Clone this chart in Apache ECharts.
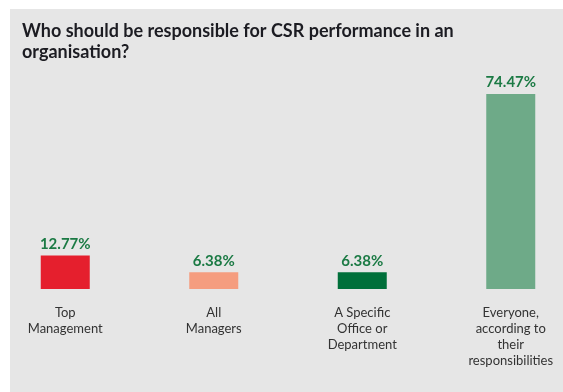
<!DOCTYPE html>
<html>
<head>
<meta charset="utf-8">
<script src="https://cdn.jsdelivr.net/npm/echarts@6/dist/echarts.min.js"></script>
<style>
  html, body { margin: 0; padding: 0; background: #ffffff; overflow: hidden; }
  #panel { position: absolute; left: 10px; top: 9px; width: 553px; height: 383px; background: #e6e6e6; }
  #main { position: absolute; left: -19px; top: 0; width: 594px; height: 383px; }
</style>
</head>
<body>
<div id="panel"><div id="main"></div></div>
<script>
var categories = ['Top\nManagement', 'All\nManagers', 'A Specific\nOffice or\nDepartment', 'Everyone,\naccording to\ntheir\nresponsibilities'];
var shares = [12.77, 6.38, 6.38, 74.47];
var barColors = ['#e51f2d', '#f59d7f', '#006f3a', '#6eaa88'];

var myChart = echarts.init(document.getElementById('main'));
// bars coloured one by one
var barData = shares.map(function (v, i) {
    return { value: v, itemStyle: { color: barColors[i] } };
});
var option = {
    animation: false,
    title: {
        text: 'Who should be responsible for CSR performance in an\norganisation?',
        left: 26,
        top: 7,
        textStyle: {
            fontFamily: 'Lato',
            fontWeight: 'bold',
            fontSize: 18,
            lineHeight: 21,
            color: '#1c1c22'
        }
    },
    grid: { left: 0, right: 0, top: 18, bottom: 103 },
    xAxis: {
        type: 'category',
        data: categories,
        axisLine: { show: false },
        axisTick: { show: false },
        axisLabel: {
            interval: 0,
            margin: 16,
            fontFamily: 'Lato',
            fontSize: 13,
            lineHeight: 16,
            color: '#333333'
        }
    },
    yAxis: {
        type: 'value',
        min: 0,
        max: 100,
        show: false
    },
    series: [{
        type: 'bar',
        barWidth: 49,
        data: barData,
        label: {
            show: true,
            position: 'top',
            distance: 4,
            formatter: function (p) { return p.value.toFixed(2) + '%'; },
            fontFamily: 'Lato',
            fontWeight: 'bold',
            fontSize: 15,
            color: '#1b7a44'
        }
    }]
};
myChart.setOption(option);
</script>
</body>
</html>
